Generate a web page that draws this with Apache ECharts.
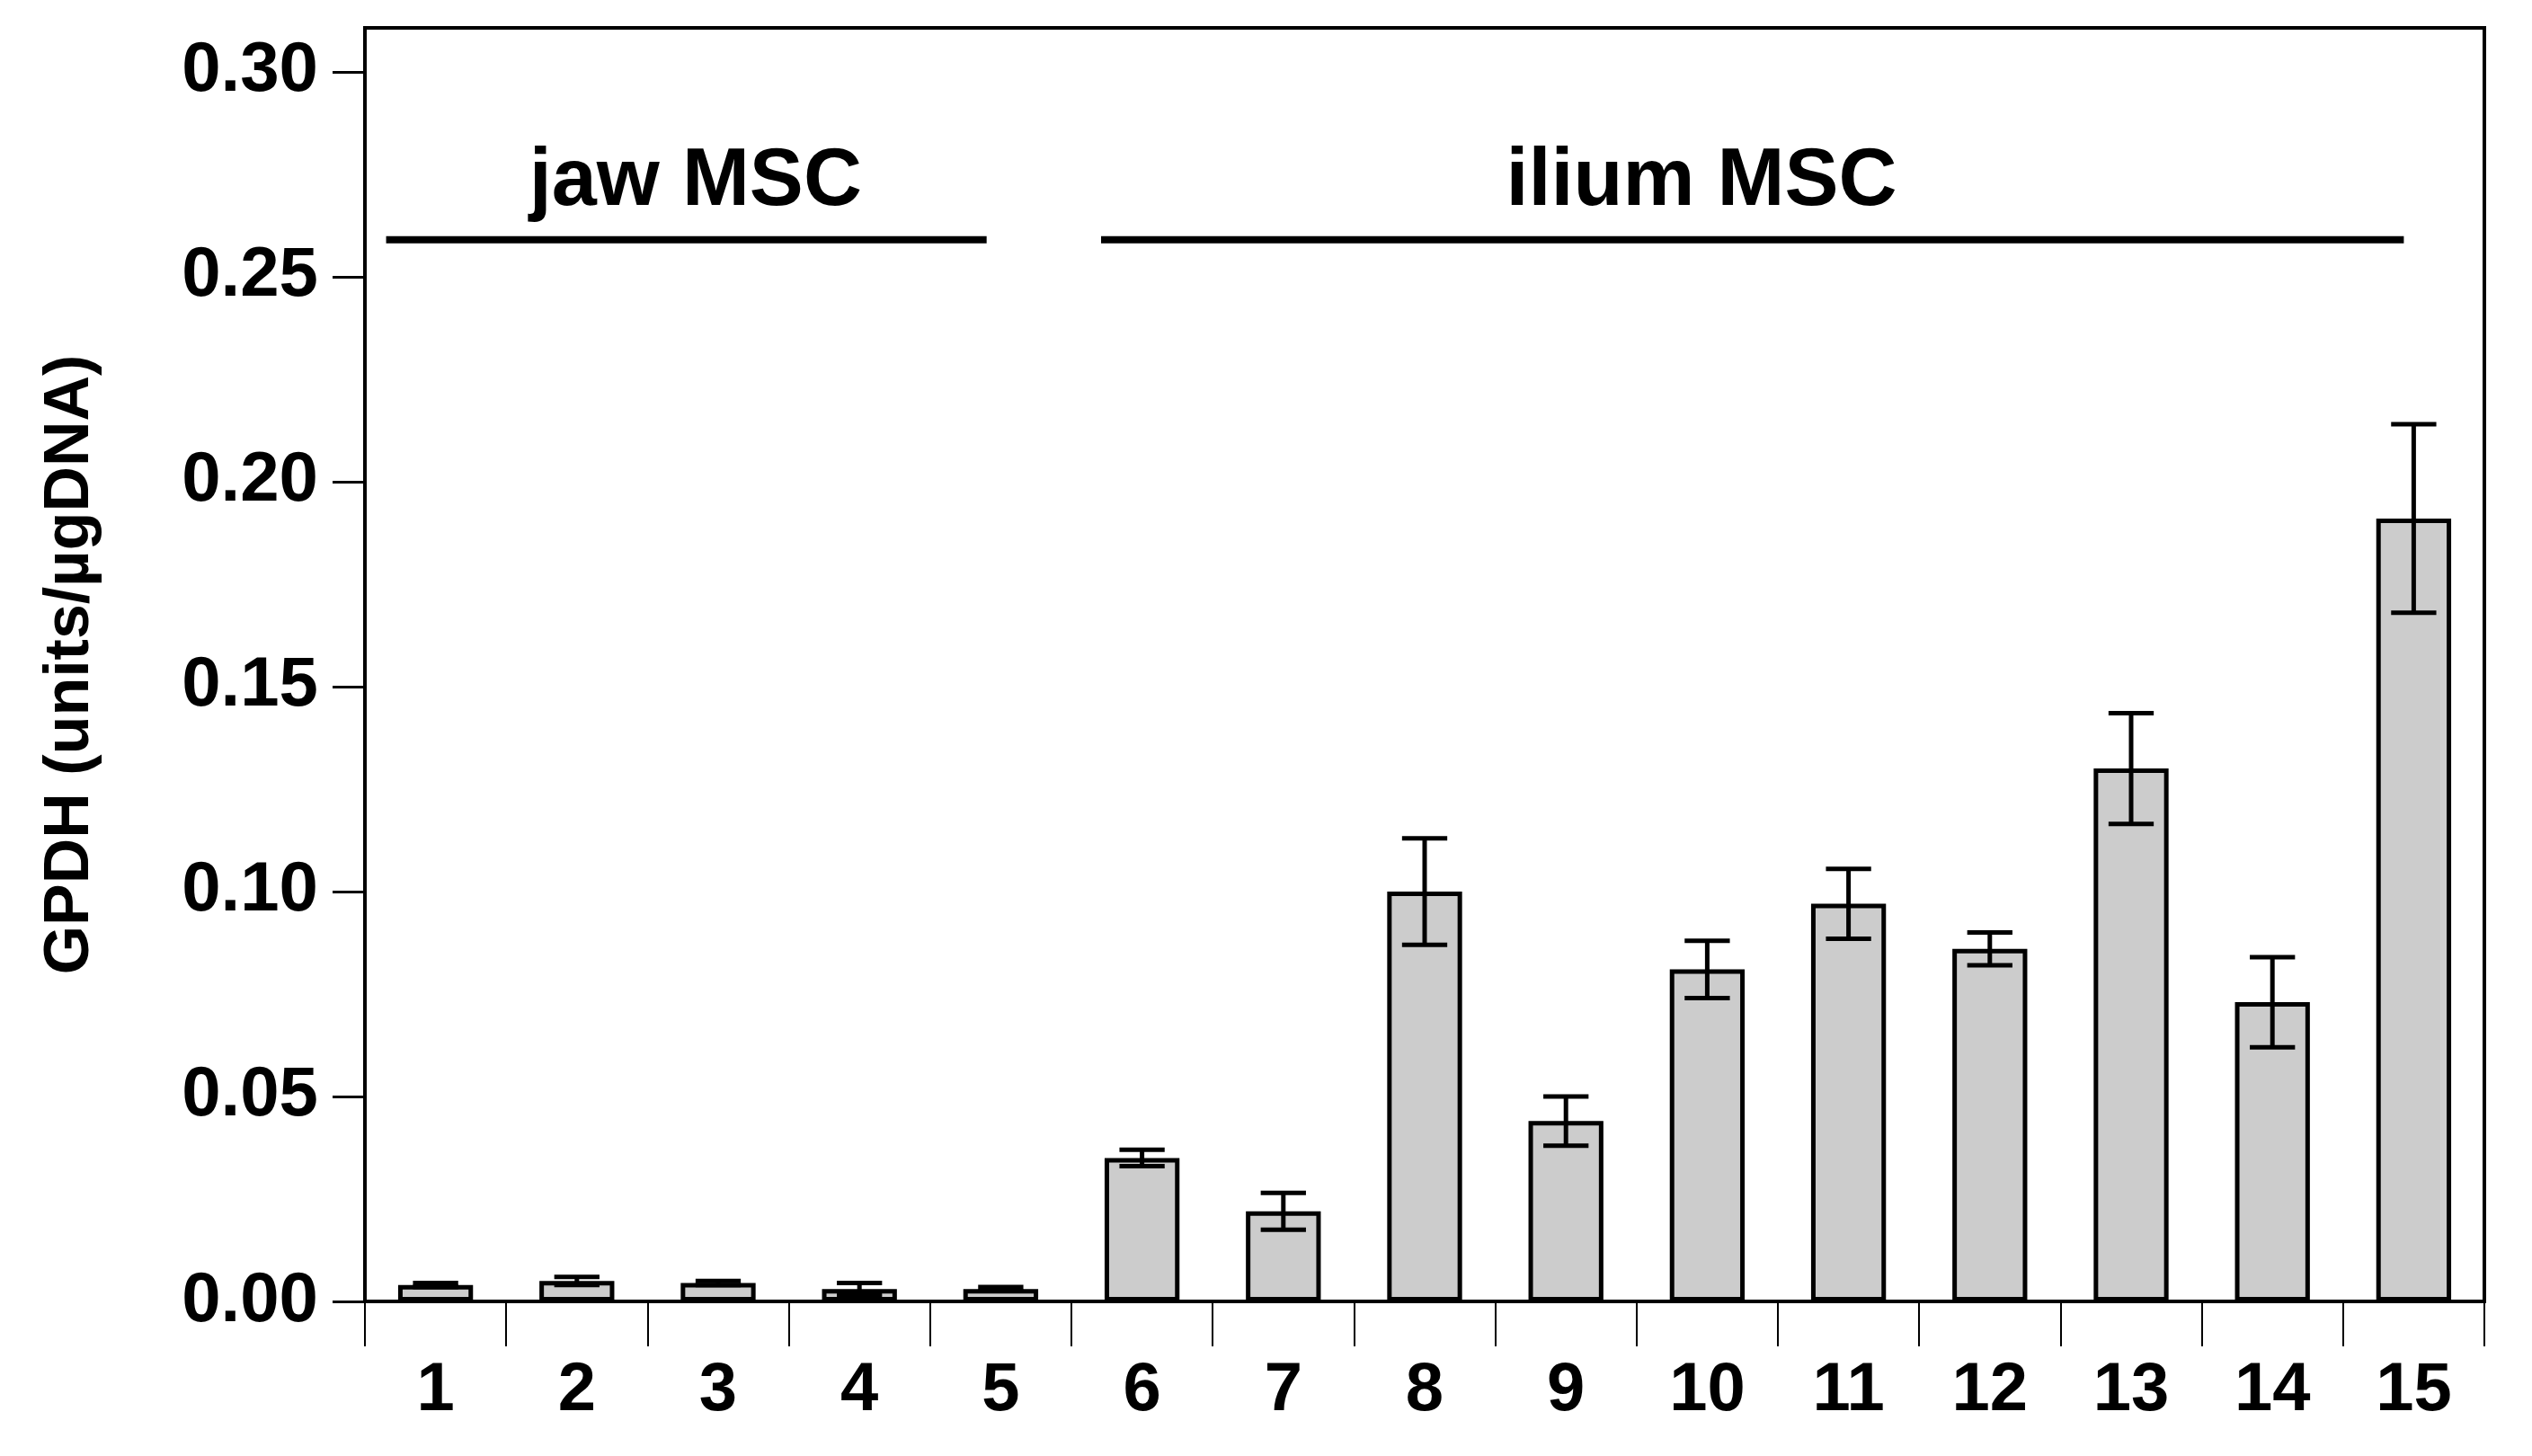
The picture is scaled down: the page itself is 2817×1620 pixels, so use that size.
<!DOCTYPE html>
<html>
<head>
<meta charset="utf-8">
<script src="https://cdn.jsdelivr.net/npm/echarts@6/dist/echarts.min.js"></script>
<style>html,body{margin:0;padding:0;background:#fff}#chart{width:2817px;height:1620px}</style>
</head>
<body>
<div id="chart"></div>
<script>
var categories = ['1','2','3','4','5','6','7','8','9','10','11','12','13','14','15'];
var values = [0.004,0.005,0.0045,0.003,0.003,0.035,0.022,0.100,0.044,0.081,0.097,0.086,0.130,0.073,0.191];
var errors = [0.0005,0.001,0.0005,0.0015,0.0005,0.002,0.0045,0.013,0.006,0.007,0.0085,0.004,0.0135,0.011,0.023];
// group bars: start/end in category-band units from left edge, label centre
var groupNames = ['jaw MSC','ilium MSC'];
var groupStart = [0.15, 5.21];
var groupEnd = [4.40, 14.43];
var groupCenter = [2.34, 9.46];
var groupLineY = 0.259;
var groupTextY = 0.273;

var font = 'Liberation Sans, Arial, sans-serif';
var chart = echarts.init(document.getElementById('chart'));

var errData = values.map(function (v, i) { return [i, v - errors[i], v + errors[i]]; });
var groupData = groupNames.map(function (n, i) { return [groupStart[i], groupEnd[i], groupCenter[i], n]; });

chart.setOption({
    animation: false,
    grid: { left: 406, right: 53, top: 31, bottom: 172, show: true, borderColor: '#000', borderWidth: 4 },
    xAxis: {
        type: 'category', data: categories,
        axisLine: { lineStyle: { color: '#000', width: 4 } },
        axisTick: { show: true, length: 50, lineStyle: { color: '#000', width: 2 } },
        axisLabel: { color: '#000', fontSize: 76, fontWeight: 'bold', fontFamily: font, margin: 62 }
    },
    yAxis: {
        type: 'value', min: 0, max: 0.3107, interval: 0.05,
        name: 'GPDH (units/µgDNA)', nameLocation: 'middle', nameGap: 292,
        nameTextStyle: { color: '#000', fontSize: 70, fontWeight: 'bold', fontFamily: font },
        splitLine: { show: false },
        axisLine: { show: true, lineStyle: { color: '#000', width: 4 } },
        axisTick: { show: true, length: 36, lineStyle: { color: '#000', width: 3 } },
        axisLabel: { color: '#000', fontSize: 78, fontWeight: 'bold', fontFamily: font, margin: 52, showMaxLabel: false,
            formatter: function (v) { return v.toFixed(2); } }
    },
    series: [
        {
            type: 'bar', data: values, barWidth: '53%',
            itemStyle: { color: '#cccccc', borderColor: '#000', borderWidth: 5 }
        },
        {
            type: 'custom', data: errData, z: 5,
            renderItem: function (params, api) {
                var x = api.value(0);
                var lo = api.coord([x, api.value(1)]);
                var hi = api.coord([x, api.value(2)]);
                var w = api.size([1, 0])[0] * 0.16;
                var st = { stroke: '#000', lineWidth: 5 };
                return { type: 'group', children: [
                    { type: 'line', shape: { x1: lo[0], y1: lo[1], x2: hi[0], y2: hi[1] }, style: st },
                    { type: 'line', shape: { x1: lo[0] - w, y1: lo[1], x2: lo[0] + w, y2: lo[1] }, style: st },
                    { type: 'line', shape: { x1: hi[0] - w, y1: hi[1], x2: hi[0] + w, y2: hi[1] }, style: st }
                ] };
            }
        },
        {
            type: 'custom', data: groupData, z: 6,
            renderItem: function (params, api) {
                var band = api.size([1, 0])[0];
                var left = api.coord([0, 0])[0] - band / 2;
                var y = api.coord([0, groupLineY])[1];
                var ty = api.coord([0, groupTextY])[1];
                return { type: 'group', children: [
                    { type: 'line', shape: { x1: left + api.value(0) * band, y1: y, x2: left + api.value(1) * band, y2: y },
                      style: { stroke: '#000', lineWidth: 8 } },
                    { type: 'text', x: left + api.value(2) * band, y: ty,
                      style: { text: api.value(3), fill: '#000', fontSize: 90, fontWeight: 'bold', fontFamily: font,
                               align: 'center', verticalAlign: 'middle' } }
                ] };
            }
        }
    ]
});
</script>
</body>
</html>
